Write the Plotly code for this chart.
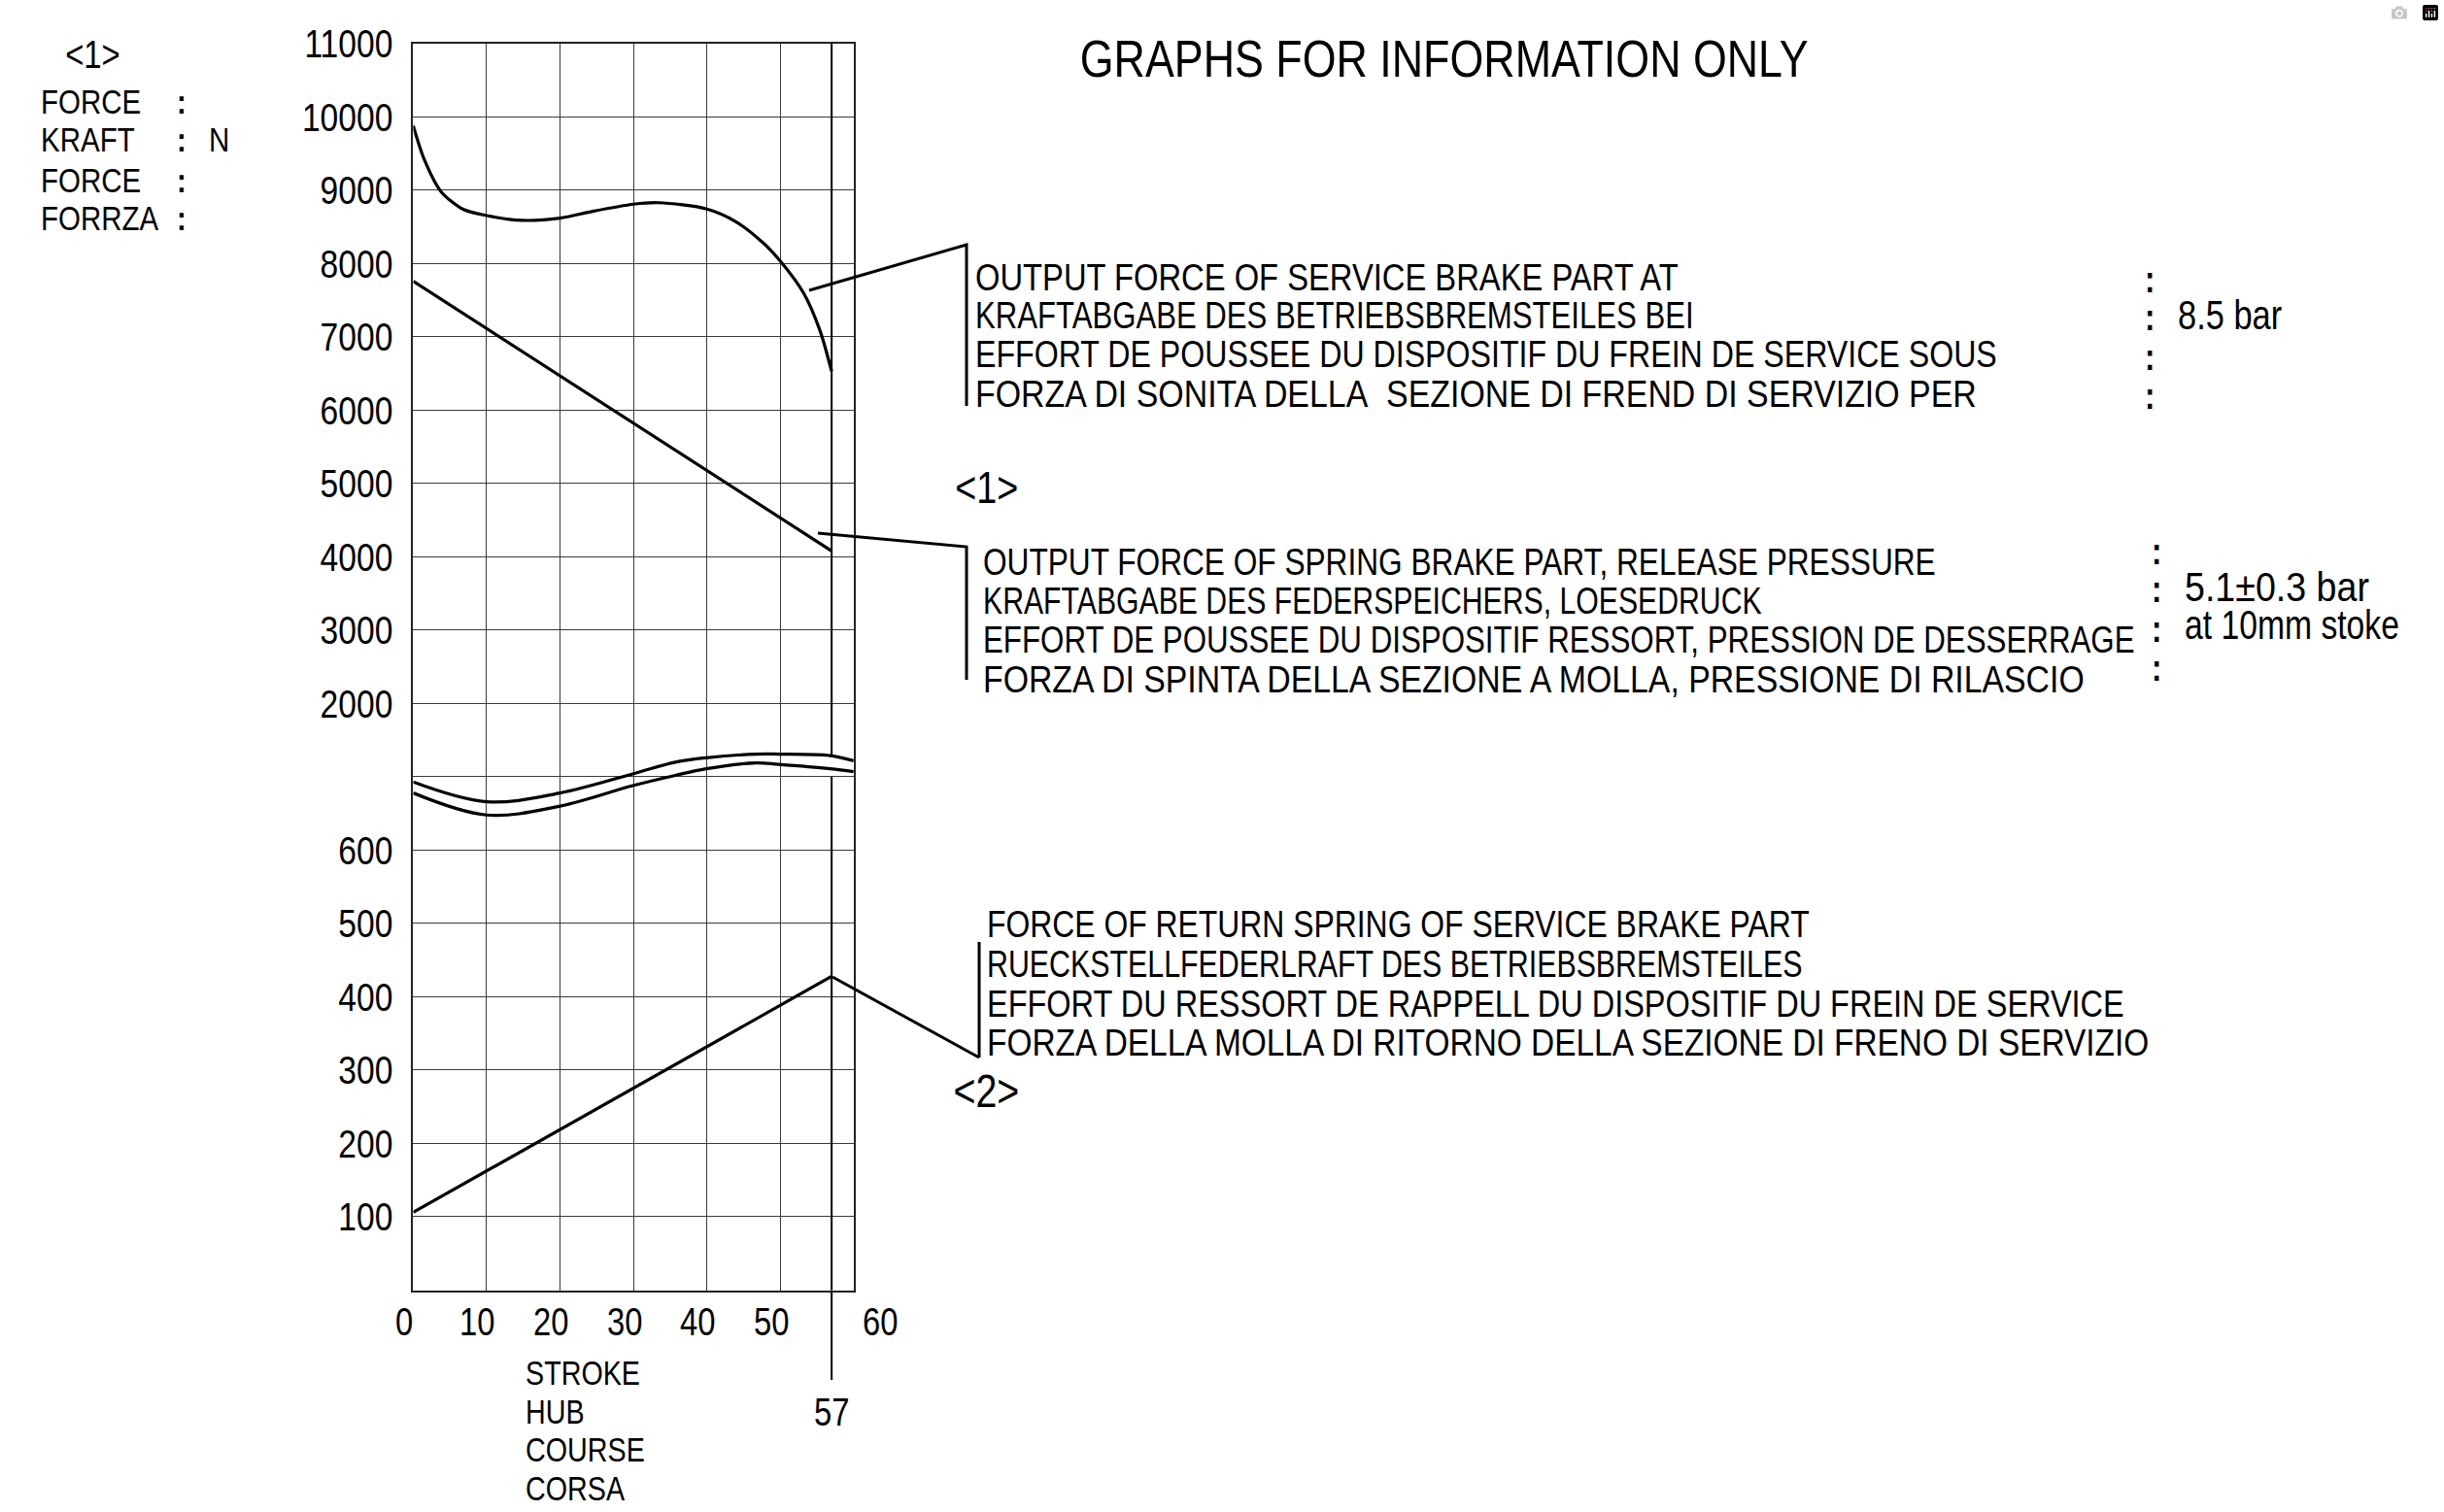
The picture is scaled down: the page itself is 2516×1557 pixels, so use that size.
import plotly.graph_objects as go

W, H = 2516, 1557
FONT = "Liberation Sans, Arial, sans-serif"
NARROW = 0.82   # horizontal squeeze that turns Liberation Sans into a narrow drafting-style face

# ---------------- data ----------------
stroke_service = [0, 1.5, 3.8, 6.8, 10, 14.8, 20, 24.3, 30, 33.4, 40, 43.9, 47.8, 50, 53.2, 55.4, 57]
force_service = [9880, 9420, 8980, 8740, 8655, 8590, 8620, 8710, 8810, 8830, 8745, 8575, 8270, 8035, 7595, 7090, 6530]

stroke_spring = [0, 57]
force_spring = [7760, 4080]

stroke_return = [0, 57]
force_return = [106, 428]

# axis-break symbol (in axis position units)
break_x = [0, 10, 20, 29.9, 35.7, 39.9, 46.7, 49.8, 56.8, 60]
break_upper = [6.93, 6.66, 6.78, 7.04, 7.20, 7.26, 7.31, 7.31, 7.29, 7.22]
break_lower = [6.78, 6.48, 6.60, 6.88, 7.02, 7.11, 7.19, 7.17, 7.11, 7.07]

y_tick_values = [100, 200, 300, 400, 500, 600, None, 2000, 3000, 4000, 5000, 6000, 7000, 8000, 9000, 10000, 11000]
x_tick_values = [0, 10, 20, 30, 40, 50, 60]
stroke_mark = 57

# ---------------- helpers ----------------
def to_pos(v):
    """broken force axis: 0..700 -> 100 N per division, 2000..11000 -> 1000 N per division"""
    return v / 100.0 if v <= 700 else 8 + (v - 2000) / 1000.0

def fx(px):
    return px / W

def fy(py):
    return 1 - py / H

y_tick_pos = list(range(1, len(y_tick_values) + 1))
y_tick_text = ["" if v is None else str(v) for v in y_tick_values]

fig = go.Figure()
line_style = dict(color="black", width=3.2)

fig.add_trace(go.Scatter(x=stroke_service, y=[to_pos(v) for v in force_service],
                         mode="lines", line=dict(shape="spline", smoothing=0.8, **line_style)))
fig.add_trace(go.Scatter(x=stroke_spring, y=[to_pos(v) for v in force_spring],
                         mode="lines", line=line_style))
fig.add_trace(go.Scatter(x=stroke_return, y=[to_pos(v) for v in force_return],
                         mode="lines", line=line_style))
fig.add_trace(go.Scatter(x=break_x, y=break_upper, mode="lines",
                         line=dict(shape="spline", smoothing=1.0, **line_style)))
fig.add_trace(go.Scatter(x=break_x, y=break_lower, mode="lines",
                         line=dict(shape="spline", smoothing=1.0, **line_style)))

# vertical mark at 57 mm (interrupted by the axis break)
fig.add_trace(go.Scatter(x=[stroke_mark, stroke_mark], y=[break_upper[-2], 17], mode="lines",
                         line=dict(color="black", width=2)))
fig.add_trace(go.Scatter(x=[stroke_mark, stroke_mark], y=[0, 7.0], mode="lines",
                         line=dict(color="black", width=2)))

x_dom = [fx(425.4), fx(878.8)]
y_dom = [fy(1328.5), fy(44.9)]

fig.add_shape(type="line", xref="x", yref="paper", x0=stroke_mark, x1=stroke_mark,
              y0=fy(1421), y1=y_dom[0], line=dict(color="black", width=2))

# leader lines (callouts)
def poly(pts):
    return "M " + " L ".join(f"{fx(a):.5f},{fy(b):.5f}" for a, b in pts)

for pts in ([(833, 299), (995, 252), (995, 418)],
            [(842, 549), (995, 563), (995, 700)],
            [(857, 1006), (1008, 1089)],
            [(1008, 970), (1008, 1089)]):
    fig.add_shape(type="path", xref="paper", yref="paper", path=poly(pts),
                  line=dict(color="black", width=3))

ann = []

def txt(text, px, py, size=38, xanchor="left", width=None):
    ann.append(dict(text=text, x=fx(px), y=fy(py), xref="paper", yref="paper",
                    xanchor=xanchor, align=("left" if xanchor == "left" else "center"),
                    yanchor="middle", showarrow=False,
                    name=("w:%d" % width if width else "n"),
                    font=dict(family=FONT, size=size, color="black")))

COLON = "<b>:</b>"

# title
txt("GRAPHS FOR INFORMATION ONLY", 1486, 60, size=53, xanchor="center", width=750)

# y axis title block
txt("&lt;1&gt;", 95, 56, size=40, xanchor="center")
for label, py in zip(["FORCE", "KRAFT", "FORCE", "FORRZA"], [105, 144, 185, 224]):
    txt(label, 40, py, size=36)
    txt(COLON, 187, py, size=36, xanchor="center")
txt("N", 213, 144, size=36)

# block 1
block1 = ["OUTPUT FORCE OF SERVICE BRAKE PART AT",
          "KRAFTABGABE DES BETRIEBSBREMSTEILES BEI",
          "EFFORT DE POUSSEE DU DISPOSITIF DU FREIN DE SERVICE SOUS",
          "FORZA DI SONITA DELLA\u00a0 SEZIONE DI FREND DI SERVIZIO PER"]
for t, py, w in zip(block1, [286, 325, 365, 406], [724, 740, 1052, 1031]):
    txt(t, 1002, py, width=w)
for py in [288, 327, 368, 408]:
    txt(COLON, 2213, py, xanchor="center")
txt("8.5 bar", 2240, 324, size=42)

txt("&lt;1&gt;", 1015, 502, size=46, xanchor="center")

# block 2
block2 = ["OUTPUT FORCE OF SPRING BRAKE PART, RELEASE PRESSURE",
          "KRAFTABGABE DES FEDERSPEICHERS, LOESEDRUCK",
          "EFFORT DE POUSSEE DU DISPOSITIF RESSORT, PRESSION DE DESSERRAGE",
          "FORZA DI SPINTA DELLA SEZIONE A MOLLA, PRESSIONE DI RILASCIO"]
for t, py, w in zip(block2, [579, 619, 659, 700], [981, 802, 1186, 1134]):
    txt(t, 1010, py, width=w)
for py in [568, 607, 648, 688]:
    txt(COLON, 2220, py, xanchor="center")
txt("5.1±0.3 bar", 2247, 604, size=42, width=190)
txt("at 10mm stoke", 2247, 643, size=42, width=221)

# block 3
block3 = ["FORCE OF RETURN SPRING OF SERVICE BRAKE PART",
          "RUECKSTELLFEDERLRAFT DES BETRIEBSBREMSTEILES",
          "EFFORT DU RESSORT DE RAPPELL DU DISPOSITIF DU FREIN DE SERVICE",
          "FORZA DELLA MOLLA DI RITORNO DELLA SEZIONE DI FRENO DI SERVIZIO"]
for t, py, w in zip(block3, [952, 993, 1034, 1074], [847, 840, 1171, 1197]):
    txt(t, 1014, py, width=w)
txt("&lt;2&gt;", 1015, 1123, size=48, xanchor="center")

# x axis labels
for v in x_tick_values:
    ann.append(dict(text=str(v), x=v, y=fy(1361), xref="x", yref="paper",
                    xanchor="center", yanchor="middle", showarrow=False,
                    xshift=(28 if v == 60 else -9), name="n",
                    font=dict(family=FONT, size=40, color="black")))
ann.append(dict(text=str(stroke_mark), x=stroke_mark, y=fy(1454), xref="x", yref="paper",
                xanchor="center", yanchor="middle", showarrow=False, name="n",
                font=dict(family=FONT, size=40, color="black")))
for t, py in zip(["STROKE", "HUB", "COURSE", "CORSA"], [1413, 1453, 1492, 1532]):
    txt(t, 539, py, size=35)

fig.update_layout(
    width=W, height=H,
    margin=dict(l=0, r=0, t=0, b=0),
    paper_bgcolor="white", plot_bgcolor="white",
    showlegend=False,
    annotations=ann,
    xaxis=dict(domain=x_dom, range=[0, 60], tickvals=x_tick_values, showticklabels=False,
               showgrid=True, gridcolor="#3a3a3a", gridwidth=1.3, zeroline=False,
               showline=True, mirror=True, linecolor="#222", linewidth=1.6,
               fixedrange=True, automargin=False),
    yaxis=dict(domain=y_dom, range=[0, 17], tickvals=y_tick_pos, ticktext=y_tick_text,
               showgrid=True, gridcolor="#3a3a3a", gridwidth=1.3, zeroline=False,
               showline=True, mirror=True, linecolor="#222", linewidth=1.6,
               ticks="", ticklabelstandoff=11,
               tickfont=dict(family=FONT, size=41, color="black"),
               fixedrange=True, automargin=False),
)

post = """
document.body.style.margin='0';
document.body.style.overflow='hidden';
var gd = document.getElementById('{plot_id}');
var S = %s;
function squeeze(el, mode, target) {
  var b = el.getBBox();
  if (!b.width) return;
  var s = target ? target / b.width : S;
  var p = mode === 'l' ? b.x : (mode === 'r' ? b.x + b.width : b.x + b.width / 2);
  var old = el.getAttribute('transform') || '';
  el.setAttribute('transform', old + ' translate(' + p + ',0) scale(' + s + ',1) translate(' + (-p) + ',0)');
}
var anns = gd._fullLayout.annotations || [];
gd.querySelectorAll('.annotation').forEach(function (g) {
  var t = g.querySelector('.annotation-text');
  if (!t) return;
  var idx = parseInt(g.getAttribute('data-index'), 10);
  var nm = (anns[idx] && anns[idx].name) || '';
  var target = nm.indexOf('w:') === 0 ? parseFloat(nm.slice(2)) : null;
  var a = t.getAttribute('text-anchor') || t.style.textAnchor;
  squeeze(t, a === 'start' ? 'l' : (a === 'end' ? 'r' : 'c'), target);
});
gd.querySelectorAll('.ytick text').forEach(function (t) { squeeze(t, 'r', null); });
""" % NARROW

fig.write_html("out.html", post_script=post)
